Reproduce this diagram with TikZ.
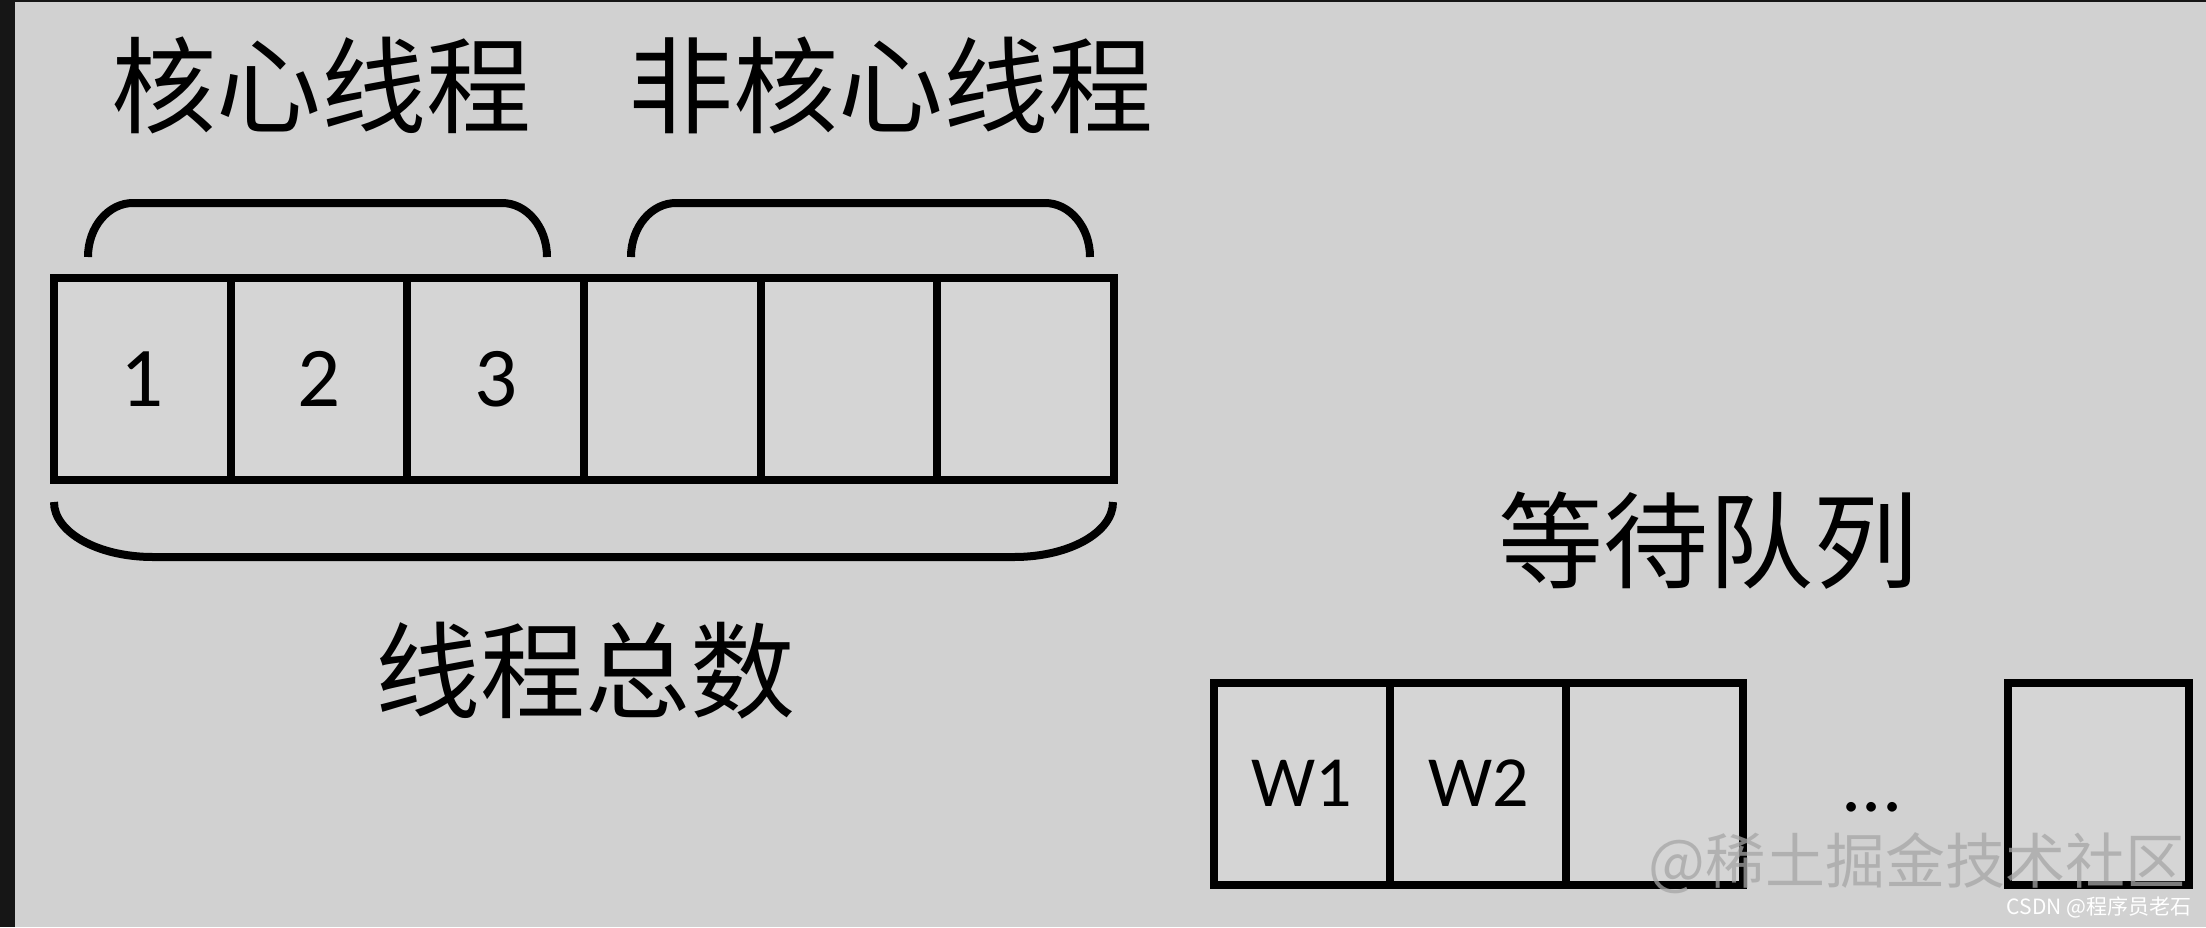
\documentclass[tikz,border=0pt]{standalone}
\usepackage{fontspec}
\setmainfont{Carlito}
\newfontfamily\cjk{Noto Sans CJK SC}
\definecolor{bg}{HTML}{D1D1D1}
\definecolor{cellbg}{HTML}{D5D5D5}
\definecolor{frame}{HTML}{161616}
\definecolor{wm}{HTML}{A6A6A6}
\begin{document}
\begin{tikzpicture}[x=0.5pt,y=-0.5pt,
  cellbox/.style={draw=black,fill=cellbg,line width=4pt,inner sep=0pt,minimum height=101pt},
  topcell/.style={cellbox,minimum width=88.33pt,font=\fontsize{42.5}{42.5}\selectfont},
  qcell/.style={cellbox,minimum width=88.2pt,font=\fontsize{36}{36}\selectfont},
  bigcjk/.style={font=\cjk\fontsize{52.5}{52.5}\selectfont,inner sep=0pt},
  bracepath/.style={draw=black,line width=4pt}]
\useasboundingbox (0,0) rectangle (2206,927);
\fill[bg] (0,0) rectangle (2206,927);
\fill[frame] (0,0) rectangle (15,927);
\fill[frame] (0,0) rectangle (2206,2);
% top row of cells
\node[topcell] (c1) at (142.3,379) {1};
\node[topcell] (c2) at (319,379) {2};
\node[topcell] (c3) at (495.7,379) {3};
\node[topcell] (c4) at (672.3,379) {};
\node[topcell] (c5) at (849,379) {};
\node[topcell] (c6) at (1025.7,379) {};
% braces
\draw[bracepath] (88,257) .. controls (88,227.2) and (108.2,203) .. (133,203) -- (502,203) .. controls (526.8,203) and (547,227.2) .. (547,257);
\draw[bracepath] (631,257) .. controls (631,227.2) and (651.2,203) .. (676,203) -- (1045,203) .. controls (1069.8,203) and (1090,227.2) .. (1090,257);
\draw[bracepath] (54,502) .. controls (54,532.4) and (97.8,557) .. (153,557) -- (1014,557) .. controls (1069.2,557) and (1113,532.4) .. (1113,502);
% labels
\node[bigcjk] (core) at (321,85) {核心线程};
\node[bigcjk] (noncore) at (891,85) {非核心线程};
\node[bigcjk] (total) at (585,671) {线程总数};
\node[bigcjk] (queue) at (1708,541) {等待队列};
% queue cells
\node[qcell] (w1) at (1302,783.5) {W1};
\node[qcell] (w2) at (1478.3,783.5) {W2};
\node[qcell] (w3) at (1654.6,783.5) {};
\node[font=\fontsize{40}{40}\selectfont,inner sep=0pt,anchor=base] (dots) at (1872,811) {...};
\node[qcell,minimum width=90.5pt] (wn) at (2098.5,783.5) {};
% watermarks
\node[font=\cjk\fontsize{30}{30}\selectfont,text=wm,opacity=0.75,inner sep=0pt] (wmark) at (1917,863) {@稀土掘金技术社区};
\node[font=\cjk\fontsize{10.5}{10.5}\selectfont,text=white,inner sep=0pt] (csdn) at (2099,907.5) {CSDN @程序员老石};
\end{tikzpicture}
\end{document}
